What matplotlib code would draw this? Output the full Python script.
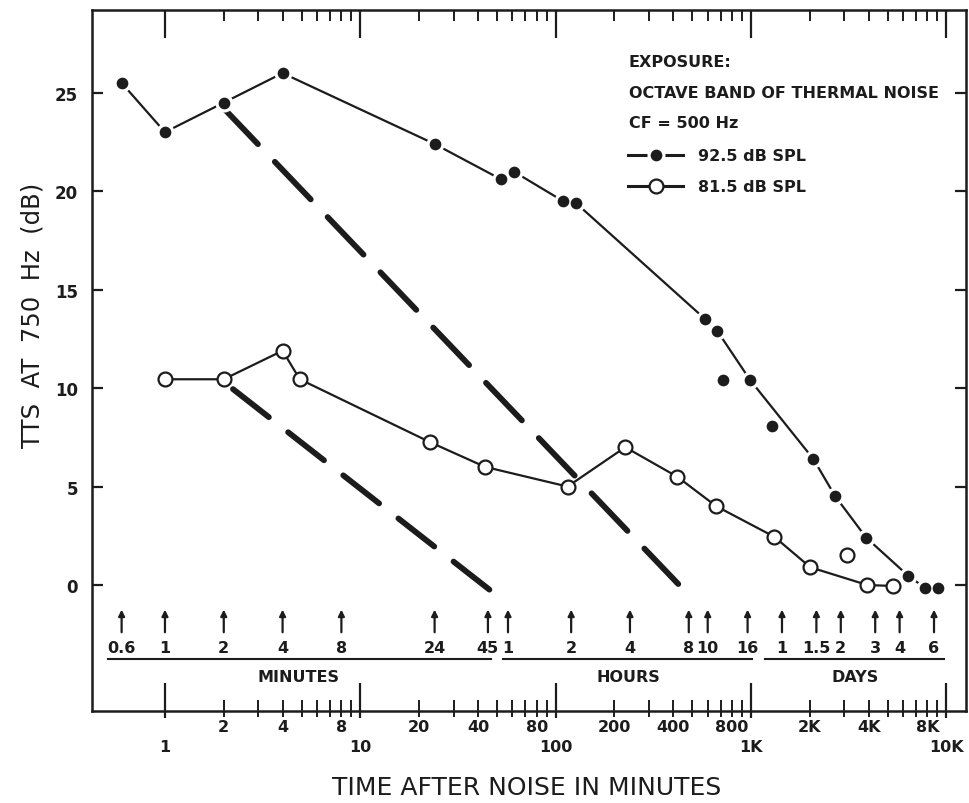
import matplotlib
matplotlib.use('Agg')
import matplotlib.pyplot as plt
from matplotlib.ticker import FixedLocator, FixedFormatter, NullFormatter

plt.rcParams['font.family'] = ['DejaVu Sans']

INK = '#1c1c1c'

# ---- data (time after noise in minutes, TTS in dB) ----
hi_t = [0.6, 1.0, 2.0, 4.0, 24, 52.6, 61, 109, 127, 583, 672, 991, 2084, 2700, 3890, 6390, 7800, 9100]
hi_db = [25.5, 23.0, 24.5, 26.0, 22.4, 20.6, 21.0, 19.5, 19.4, 13.5, 12.9, 10.4, 6.4, 4.5, 2.4, 0.46, -0.15, -0.15]
hi_extra_t = [721, 1284]
hi_extra_db = [10.4, 8.1]

lo_t = [1.0, 2.0, 4.0, 4.9, 22.8, 43.5, 115, 227, 419, 664, 1315, 2011, 3938, 5355]
lo_db = [10.45, 10.45, 11.9, 10.45, 7.25, 6.0, 5.0, 7.0, 5.5, 4.0, 2.45, 0.9, 0.0, -0.05]
lo_extra_t = [3113]
lo_extra_db = [1.5]

fast_t = [1.96, 424]
fast_db = [24.3, 0.05]
slow_t = [2.23, 46]
slow_db = [9.95, -0.25]

# measurement-time arrows
min_t = [0.6, 1, 2, 4, 8, 24, 45]
min_lab = ['0.6', '1', '2', '4', '8', '24', '45']
hr_t = [57, 120, 240, 480, 600, 960]
hr_lab = ['1', '2', '4', '8', '10', '16']
day_t = [1440, 2160, 2880, 4320, 5760, 8640]
day_lab = ['1', '1.5', '2', '3', '4', '6']
group_names = ['MINUTES', 'HOURS', 'DAYS']
group_spans = [(0.51, 46.7), (53.9, 1015), (1183, 9770)]
group_centers = [4.8, 235, 3420]

major_ticks = [1, 10, 100, 1000, 10000]
major_labels = ['1', '10', '100', '1K', '10K']
minor_ticks = [k * 10 ** d for d in range(4) for k in range(2, 10)]
minor_label_map = {2: '2', 4: '4', 8: '8', 20: '20', 40: '40', 80: '80',
                   200: '200', 400: '400', 800: '800', 2000: '2K', 4000: '4K', 8000: '8K'}
minor_labels = [minor_label_map.get(v, '') for v in minor_ticks]
y_ticks = [0, 5, 10, 15, 20, 25]

fig = plt.figure(figsize=(9.7, 8.04), dpi=100)
ax = fig.add_axes([0.0948, 0.1144, 0.9011, 0.8718])
ax.set_xscale('log')
ax.set_xlim(0.423, 12600)
ax.set_ylim(-6.4, 29.2)

# thick dashed recovery lines
ax.plot(fast_t, fast_db, color=INK, lw=4.2, dashes=(8.9, 4.2), dash_capstyle='round', zorder=2)
ax.plot(slow_t, slow_db, color=INK, lw=4.2, dashes=(7.8, 4.2), dash_capstyle='round', zorder=2)

# 92.5 dB series
ax.plot(hi_t, hi_db, color=INK, lw=1.6, zorder=3)
ax.plot(hi_t + hi_extra_t, hi_db + hi_extra_db, ls='none', marker='o', ms=12.0,
        mfc='white', mec='white', zorder=4)
ax.plot(hi_t + hi_extra_t, hi_db + hi_extra_db, ls='none', marker='o', ms=7.4,
        mfc=INK, mec=INK, zorder=5)

# 81.5 dB series
ax.plot(lo_t, lo_db, color=INK, lw=1.6, marker='o', ms=10, mfc='white', mec=INK, mew=1.6, zorder=4)
ax.plot(lo_extra_t, lo_extra_db, ls='none', marker='o', ms=10, mfc='white', mec=INK, mew=1.6, zorder=4)

# arrows + labels
for times, labs in [(min_t, min_lab), (hr_t, hr_lab), (day_t, day_lab)]:
    for t, lab in zip(times, labs):
        ax.annotate('', xy=(t, -1.25), xytext=(t, -2.4),
                    arrowprops=dict(arrowstyle='-|>', color=INK, lw=1.6, mutation_scale=9,
                                    shrinkA=0, shrinkB=0))
        ax.text(t, -3.15, lab, ha='center', va='center', fontsize=11.5, fontweight='bold', color=INK)
for name, (a, b), c in zip(group_names, group_spans, group_centers):
    ax.plot([a, b], [-3.76, -3.76], color=INK, lw=1.5)
    ax.text(c, -4.67, name, ha='center', va='center', fontsize=11.5, fontweight='bold', color=INK)

# legend block
lx0, lx1, lxm, ltx = 0.613, 0.676, 0.645, 0.693
lfs = 11.5
ax.text(0.614, 0.927, 'EXPOSURE:', transform=ax.transAxes, fontsize=lfs, fontweight='bold',
        color=INK, va='center')
ax.text(0.614, 0.883, 'OCTAVE BAND OF THERMAL NOISE', transform=ax.transAxes, fontsize=lfs,
        fontweight='bold', color=INK, va='center')
ax.text(0.614, 0.839, 'CF = 500 Hz', transform=ax.transAxes, fontsize=lfs, fontweight='bold',
        color=INK, va='center')
ax.plot([lx0, lx1], [0.793, 0.793], transform=ax.transAxes, color=INK, lw=2.2, zorder=3)
ax.plot([lxm], [0.793], transform=ax.transAxes, marker='o', ms=12, mfc='white', mec='white', zorder=4)
ax.plot([lxm], [0.793], transform=ax.transAxes, marker='o', ms=7.4, mfc=INK, mec=INK, zorder=5)
ax.text(ltx, 0.793, '92.5 dB SPL', transform=ax.transAxes, fontsize=lfs, fontweight='bold',
        color=INK, va='center')
ax.plot([lx0, lx1], [0.749, 0.749], transform=ax.transAxes, color=INK, lw=2.2, zorder=3)
ax.plot([lxm], [0.749], transform=ax.transAxes, marker='o', ms=10, mfc='white', mec=INK, mew=1.6, zorder=4)
ax.text(ltx, 0.749, '81.5 dB SPL', transform=ax.transAxes, fontsize=lfs, fontweight='bold',
        color=INK, va='center')

# axes styling
for s in ax.spines.values():
    s.set_color(INK)
    s.set_linewidth(1.8)
ax.xaxis.set_major_locator(FixedLocator(major_ticks))
ax.xaxis.set_major_formatter(FixedFormatter(major_labels))
ax.xaxis.set_minor_locator(FixedLocator(minor_ticks))
ax.xaxis.set_minor_formatter(FixedFormatter(minor_labels))
ax.tick_params(axis='x', which='major', direction='in', length=20, width=1.6, top=True,
               pad=20, labelsize=11.5, colors=INK)
ax.tick_params(axis='x', which='minor', direction='in', length=8, width=1.4, top=True,
               pad=6, labelsize=11.5, colors=INK)
for lab in ax.get_xticklabels(which='both'):
    lab.set_fontweight('bold')
ax.set_yticks(y_ticks)
ax.tick_params(axis='y', direction='in', length=8, width=1.6, right=True, pad=10,
               labelsize=12, colors=INK)
for lab in ax.get_yticklabels():
    lab.set_fontweight('bold')

# short outward parts of bottom ticks
sec = ax.secondary_xaxis('bottom')
sec.xaxis.set_major_locator(FixedLocator(major_ticks))
sec.xaxis.set_minor_locator(FixedLocator(minor_ticks))
sec.xaxis.set_major_formatter(NullFormatter())
sec.xaxis.set_minor_formatter(NullFormatter())
sec.tick_params(which='major', direction='out', length=5, width=1.6, colors=INK)
sec.tick_params(which='minor', direction='out', length=4, width=1.4, colors=INK)
sec.spines['bottom'].set_visible(False)

fig.text(0.543, 0.020, 'TIME AFTER NOISE IN MINUTES', ha='center', va='center',
         fontsize=18, color=INK)
fig.text(0.033, 0.608, 'TTS  AT  750  Hz  (dB)', ha='center', va='center', rotation=90,
         fontsize=17.5, color=INK)

fig.savefig('out.png', dpi=100, facecolor='white')
